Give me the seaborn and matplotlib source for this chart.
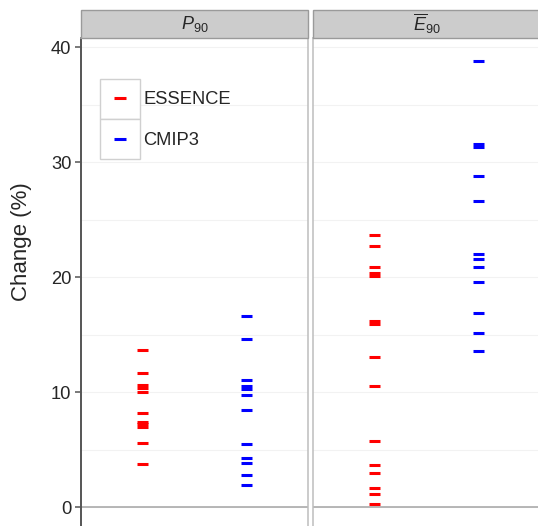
#!/usr/bin/env python3
"""
Strip plot of projected change (%) for P90 and E90,
ESSENCE ensemble vs CMIP3 models, one panel per index.
"""

import pandas as pd
import matplotlib
matplotlib.use("Agg")
import matplotlib.pyplot as plt
import seaborn as sns
from matplotlib.lines import Line2D
from matplotlib.patches import Rectangle


# === Data ===
sources = ["ESSENCE", "CMIP3"]
panels = ["P90", "E90"]
panel_titles = [r"$P_{90}$", r"$\overline{E}_{90}$"]

p90_essence = [13.7, 11.65, 10.65, 10.35, 10.05, 8.2, 7.45, 7.2, 6.95, 5.55, 3.8]
p90_cmip3 = [16.6, 14.65, 11.05, 10.5, 10.25, 9.8, 8.45, 5.5, 4.25, 3.85, 2.8, 1.95]
e90_essence = [23.7, 22.75, 20.85, 20.4, 20.15, 16.2, 15.9, 13.1, 10.55,
               5.8, 3.65, 3.0, 1.7, 1.15, 0.25]
e90_cmip3 = [38.8, 31.55, 31.35, 28.8, 26.6, 22.05, 21.6, 20.9, 19.6,
             16.9, 15.15, 13.55]

yticks = [0, 10, 20, 30, 40]
palette = {"ESSENCE": "#FF0000", "CMIP3": "#0000FF"}


# === Step 1: long table ===
def build_frame() -> pd.DataFrame:
    parts = []
    for panel, src, vals in [("P90", "ESSENCE", p90_essence),
                             ("P90", "CMIP3", p90_cmip3),
                             ("E90", "ESSENCE", e90_essence),
                             ("E90", "CMIP3", e90_cmip3)]:
        parts.append(pd.DataFrame({"Panel": panel, "Source": src, "Change": vals}))
    return pd.concat(parts, ignore_index=True)


# === Step 2: plotting ===
def plot(df: pd.DataFrame, out_png: str = "out.png"):
    sns.set_style("white")
    plt.rcParams["font.family"] = ["Liberation Sans", "DejaVu Sans"]
    plt.rcParams["mathtext.fontset"] = "custom"
    plt.rcParams["mathtext.rm"] = "Liberation Sans"
    plt.rcParams["mathtext.it"] = "Liberation Sans:italic"

    W, H = 538, 526
    fig = plt.figure(figsize=(W / 100, H / 100), dpi=100)

    top_px, bottom_px = 38, 526
    ax_h = (bottom_px - top_px) / H
    lefts = [81, 313]
    ax_w = 227 / W
    strip_h = 28 / (bottom_px - top_px)

    axes = []
    for i, (panel, title) in enumerate(zip(panels, panel_titles)):
        ax = fig.add_axes([lefts[i] / W, 1 - bottom_px / H, ax_w, ax_h])
        axes.append(ax)
        sub = df[df["Panel"] == panel]

        for v in [0, 5, 10, 15, 20, 25, 30, 35, 40]:
            ax.axhline(v, color="#F2F2F2", lw=0.8, zorder=0)
        ax.axhline(0, color="#ABABAB", lw=1.2, zorder=1)

        sns.stripplot(data=sub, x="Source", y="Change", hue="Source",
                      order=sources, hue_order=sources, palette=palette,
                      jitter=False, marker="_", size=8, linewidth=2.2,
                      edgecolor="face", legend=False, ax=ax, zorder=3)

        ax.set_xlim(-0.6, 1.6)
        ax.set_ylim(-1.63, 40.8)
        ax.set_xlabel("")
        ax.set_ylabel("")
        ax.set_xticks([])

        for side in ["top", "left", "right"]:
            ax.spines[side].set_color("#BDBDBD")
            ax.spines[side].set_linewidth(1.1)
        ax.spines["bottom"].set_visible(False)

        # strip header
        ax.add_patch(Rectangle((0, 1), 1, strip_h, transform=ax.transAxes,
                               facecolor="#CCCCCC", edgecolor="#9A9A9A",
                               lw=1.0, clip_on=False, zorder=5))
        ax.text(0.5, 1 + strip_h / 2, title, transform=ax.transAxes,
                ha="center", va="center", fontsize=13, zorder=6)

        if i == 0:
            ax.set_yticks(yticks)
            ax.spines["left"].set_color("#555555")
            ax.spines["left"].set_linewidth(1.4)
            ax.tick_params(axis="y", left=True, length=4, width=1.1,
                           color="#555555", labelsize=13.2, pad=3)
        else:
            ax.set_yticks([])

    fig.text(22 / W, 1 - 242 / H, "Change (%)", rotation=90,
             ha="center", va="center", fontsize=16)

    # legend with ggplot-like key boxes
    for y0 in [79, 119]:
        axes[0].add_patch(Rectangle((100 / W, 1 - (y0 + 40) / H), 40 / W, 40 / H,
                                    transform=fig.transFigure,
                                    facecolor="white", edgecolor="#D0D0D0",
                                    lw=1.0, clip_on=False, zorder=7))
    handles = [Line2D([], [], linestyle="", marker="_", color=palette[s],
                      markersize=8, markeredgewidth=2.2) for s in sources]
    leg = axes[0].legend(handles, sources, loc="center left",
                         bbox_to_anchor=(103 / W, 1 - 120 / H),
                         bbox_transform=fig.transFigure,
                         frameon=False, fontsize=13.2, handlelength=1.9,
                         handletextpad=0.3, labelspacing=1.3,
                         borderpad=0, borderaxespad=0)
    leg.set_zorder(8)

    fig.savefig(out_png, dpi=100)
    plt.close(fig)


# === Main ===
def main():
    df = build_frame()
    plot(df)


if __name__ == "__main__":
    main()
